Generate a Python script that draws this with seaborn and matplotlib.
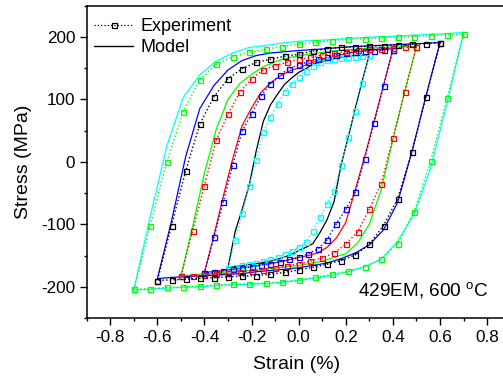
import matplotlib
matplotlib.use("Agg")
import matplotlib.pyplot as plt
from matplotlib.lines import Line2D
import pandas as pd
import seaborn as sns

# Strain grids (%) for each loop, running from +amplitude down to -amplitude
strain_03 = [0.30, 0.27, 0.24, 0.21, 0.18, 0.15, 0.12, 0.09, 0.06, 0.03, 0.00,
             -0.03, -0.06, -0.09, -0.12, -0.15, -0.18, -0.21, -0.24, -0.27, -0.30]
strain_04 = [0.40, 0.36, 0.32, 0.28, 0.24, 0.20, 0.16, 0.12, 0.08, 0.04, 0.00,
             -0.04, -0.08, -0.12, -0.16, -0.20, -0.24, -0.28, -0.32, -0.36, -0.40]
strain_05 = [0.50, 0.45, 0.40, 0.35, 0.30, 0.25, 0.20, 0.15, 0.10, 0.05, 0.00,
             -0.05, -0.10, -0.15, -0.20, -0.25, -0.30, -0.35, -0.40, -0.45, -0.50]
strain_06 = [0.60, 0.54, 0.48, 0.42, 0.36, 0.30, 0.24, 0.18, 0.12, 0.06, 0.00,
             -0.06, -0.12, -0.18, -0.24, -0.30, -0.36, -0.42, -0.48, -0.54, -0.60]
strain_07 = [0.70, 0.63, 0.56, 0.49, 0.42, 0.35, 0.28, 0.21, 0.14, 0.07, 0.00,
             -0.07, -0.14, -0.21, -0.28, -0.35, -0.42, -0.49, -0.56, -0.63, -0.70]

# Stress (MPa). "down" follows the strain grid (+a -> -a), "up" runs back (-a -> +a)
exp_03_down = [171, 126, 82, 39.5, -5, -47, -68, -89, -111, -128, -137,
               -142, -147, -152, -156, -159, -161.5, -163.5, -165, -168, -170]
exp_03_up = [-170, -125, -82, -38, 3, 47, 72, 92, 112, 125, 136,
             146, 154, 159.5, 163, 165, 166, 167, 168, 169.5, 171]
mod_03_down = [171, 130, 85, 39, -5, -64, -93, -113.5, -131, -137, -142,
               -148, -152.5, -156, -159, -161, -163, -164.5, -166, -167.5, -169]
mod_03_up = [-169, -112, -76, -37, 18, 65, 91, 108, 124, 134, 143,
             149, 156, 159.5, 162, 165, 167.5, 169, 170, 170.5, 171]

exp_04_down = [179, 121, 62, 5, -49, -76, -99, -125, -140, -147, -153,
               -156, -160, -163, -165, -168, -170, -172, -174.5, -176.5, -178]
exp_04_up = [-178, -121, -64, -5, 49, 77, 105, 125, 139, 149, 155,
             160, 164, 167, 171, 173.5, 176, 177, 178, 178.5, 179]
mod_04_down = [181, 122, 65, 8, -45, -97, -122, -137, -146, -150, -153,
               -157, -160, -163, -165, -168, -170, -172, -174, -175.5, -177]
mod_04_up = [-177, -118, -55, 5, 58, 86, 111, 126, 137, 145, 150,
             156.5, 161.5, 165.5, 169, 173, 175.5, 177.5, 179, 180, 181]

exp_05_down = [184, 111, 38, -35, -76, -112, -132, -146, -154, -159, -163,
               -167, -170, -172.5, -174.5, -176.5, -178.5, -180, -181, -182, -183]
exp_05_up = [-183, -110, -38, 35, 76, 111.5, 133, 147, 154, 159, 164,
             167, 171, 173.5, 176, 179, 180, 181, 182, 183, 184]
mod_05_down = [184.5, 113, 35, -45, -100, -130, -147, -153, -159, -162.5, -166,
               -168, -170, -172, -174, -175, -176, -178, -179.5, -181, -183]
mod_05_up = [-183, -103, -18, 52, 100, 125, 140, 152, 160, 166, 169.5,
             172.5, 175, 177.5, 179, 180.5, 182, 183, 183.5, 184, 184.5]

exp_06_down = [190, 103, 15, -59, -102, -132, -149, -158, -164, -169, -173,
               -177, -180, -182, -183, -184, -185.5, -186.5, -188, -189, -190]
exp_06_up = [-190, -102, -15, 60, 104, 133, 149, 159, 164, 169, 172,
             177, 181, 183, 184, 185, 186, 187, 188, 189, 190]
mod_06_down = [191, 105, 15, -65, -109, -133, -146, -155, -162, -166, -169.5,
               -172, -174, -176, -179, -180, -181.5, -182.5, -184, -185, -187]
mod_06_up = [-187, -95, 8, 85, 122, 147, 162, 170, 174, 176, 178,
             179.5, 181, 183, 184.5, 185.5, 186.5, 187.5, 188.5, 189.5, 191]

exp_07_down = [204, 102, 1, -80, -131, -156, -168, -175, -180, -185, -189,
               -192, -194, -195, -196, -197, -199, -200, -201, -203, -204]
exp_07_up = [-204, -102, 0, 80, 131, 156, 168, 175, 180, 184, 188,
             191, 194, 196, 197, 198, 200, 200, 202, 203, 204]
mod_07_down = [207, 94, -10, -84, -127, -156, -168, -176, -182, -186, -190,
               -193, -195, -196, -197, -198, -200, -201, -202, -204, -205]
mod_07_up = [-205, -87, 25, 103, 139, 161, 174, 183, 186, 190, 193,
             194, 195.5, 197.5, 199, 200, 201, 202.5, 204, 205, 207]

# (strain, exp down, exp up, model down, model up, experiment colour, model colour)
loops = [
    (strain_03, exp_03_down, exp_03_up, mod_03_down, mod_03_up, "#00ffff", "#000000"),
    (strain_04, exp_04_down, exp_04_up, mod_04_down, mod_04_up, "#0000ff", "#ff0000"),
    (strain_05, exp_05_down, exp_05_up, mod_05_down, mod_05_up, "#ff0000", "#00ff00"),
    (strain_06, exp_06_down, exp_06_up, mod_06_down, mod_06_up, "#000000", "#0000ff"),
    (strain_07, exp_07_down, exp_07_up, mod_07_down, mod_07_up, "#00ff00", "#00ffff"),
]

x_ticks = [-0.8, -0.6, -0.4, -0.2, 0.0, 0.2, 0.4, 0.6, 0.8]
y_ticks = [-200, -100, 0, 100, 200]

sns.set_theme(style="ticks")
plt.rcParams["font.family"] = ["Liberation Sans", "DejaVu Sans"]
plt.rcParams["mathtext.fontset"] = "custom"
plt.rcParams["mathtext.rm"] = "Liberation Sans"
plt.rcParams["axes.unicode_minus"] = False
for key in ["text.color", "axes.labelcolor", "xtick.color", "ytick.color", "axes.edgecolor"]:
    plt.rcParams[key] = "black"

fig = plt.figure(figsize=(5.03, 3.78), dpi=100)
ax = fig.add_axes([0.1724, 0.1587, 0.8429, 0.8267])

for strain, e_dn, e_up, m_dn, m_up, c_exp, c_mod in loops:
    path = list(strain) + list(strain[::-1])
    model = pd.DataFrame({"strain": path, "stress": list(m_dn) + list(m_up)})
    sns.lineplot(data=model, x="strain", y="stress", sort=False, estimator=None,
                 color=c_mod, lw=0.9, ax=ax)

for strain, e_dn, e_up, m_dn, m_up, c_exp, c_mod in loops:
    path = list(strain) + list(strain[::-1])
    test = pd.DataFrame({"strain": path, "stress": list(e_dn) + list(e_up)})
    sns.lineplot(data=test, x="strain", y="stress", sort=False, estimator=None,
                 color=c_exp, lw=1.0, linestyle=":", marker="s", markersize=3.6,
                 markerfacecolor="none", markeredgecolor=c_exp, markeredgewidth=0.9,
                 ax=ax)

ax.set_xlim(-0.9, 0.9)
ax.set_ylim(-250, 250)
ax.set_xticks(x_ticks)
ax.set_xticklabels([f"{t:.1f}" for t in x_ticks])
ax.set_yticks(y_ticks)
ax.set_xticks([-0.9, -0.7, -0.5, -0.3, -0.1, 0.1, 0.3, 0.5, 0.7, 0.9], minor=True)
ax.set_yticks([-250, -150, -50, 50, 150, 250], minor=True)
ax.tick_params(which="major", direction="out", length=4.8, width=1.0,
               labelsize=12.3, pad=3.5, top=False, right=False)
ax.tick_params(which="minor", direction="out", length=2.5, width=1.0,
               top=False, right=False)
for sp in ax.spines.values():
    sp.set_linewidth(1.1)

ax.set_xlabel("Strain (%)", fontsize=14)
ax.set_ylabel("Stress (MPa)", fontsize=14)
ax.xaxis.set_label_coords(0.495, -0.122)
ax.yaxis.set_label_coords(-0.128, 0.5)

ax.text(0.64, 0.07, r"429EM, 600 $^\mathrm{o}$C", transform=ax.transAxes,
        fontsize=13.7, ha="left", va="baseline")

handles = [
    Line2D([], [], color="black", lw=0.9, linestyle=":", marker="s", markersize=3.6,
           markerfacecolor="none", markeredgewidth=0.9),
    Line2D([], [], color="black", lw=1.0),
]
ax.legend(handles, ["Experiment", "Model"], loc="upper left",
          bbox_to_anchor=(0.0165, 0.96), frameon=False, borderpad=0,
          borderaxespad=0, fontsize=13, handlelength=2.2, handletextpad=0.4,
          labelspacing=0.22, numpoints=1)

fig.savefig("out.png", dpi=100)
